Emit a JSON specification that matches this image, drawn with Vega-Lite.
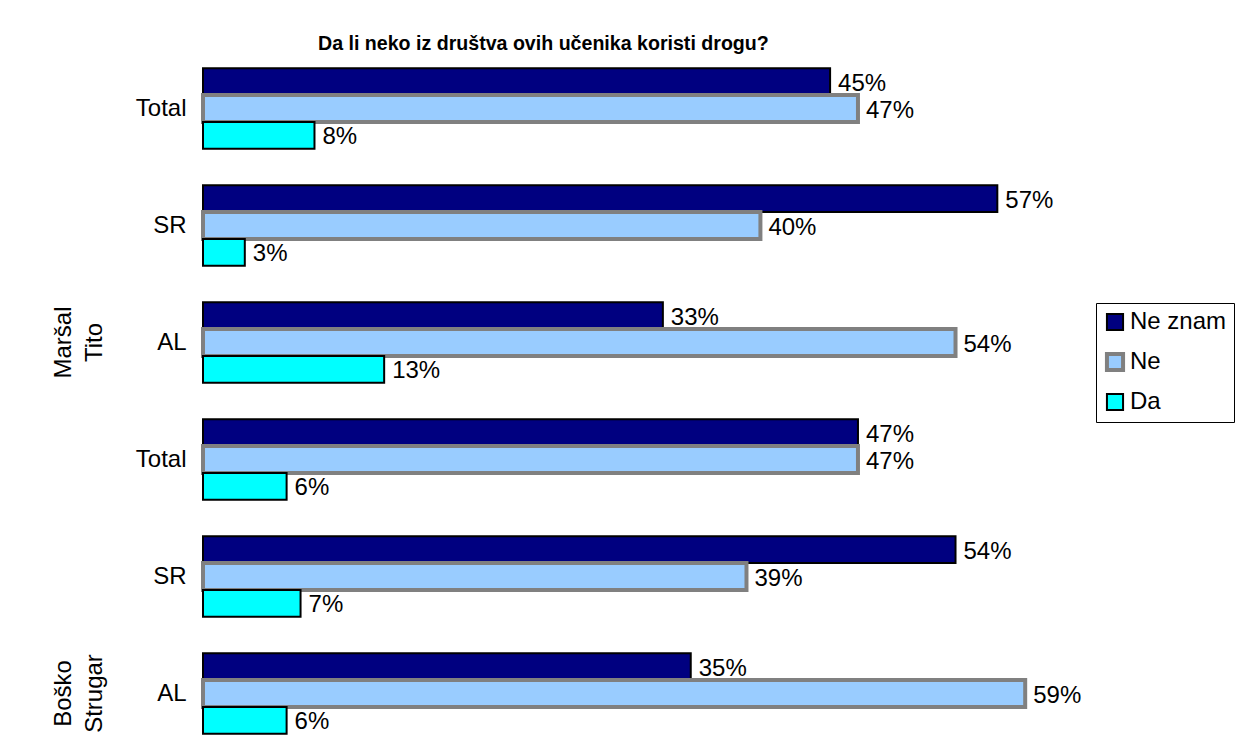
{
  "$schema": "https://vega.github.io/schema/vega-lite/v6.json",
  "width": 864,
  "height": 702,
  "autosize": "none",
  "padding": {"left": 203, "top": 50, "right": 190, "bottom": 3},
  "background": "white",
  "config": {
    "font": "Liberation Sans",
    "view": {"stroke": null}
  },
  "title": {
    "text": "Da li neko iz društva ovih učenika koristi drogu?",
    "font": "Liberation Sans",
    "fontSize": 19.6,
    "fontWeight": "bold",
    "anchor": "start",
    "frame": "group",
    "dx": 115,
    "offset": -5,
    "color": "black"
  },
  "layer": [
    {
      "data": {
        "values": [
          {"row": "1|Total", "resp": "Ne znam", "value": 0.45},
          {"row": "1|Total", "resp": "Ne", "value": 0.47},
          {"row": "1|Total", "resp": "Da", "value": 0.08},
          {"row": "2|SR", "resp": "Ne znam", "value": 0.57},
          {"row": "2|SR", "resp": "Ne", "value": 0.40},
          {"row": "2|SR", "resp": "Da", "value": 0.03},
          {"row": "3|AL", "resp": "Ne znam", "value": 0.33},
          {"row": "3|AL", "resp": "Ne", "value": 0.54},
          {"row": "3|AL", "resp": "Da", "value": 0.13},
          {"row": "4|Total", "resp": "Ne znam", "value": 0.47},
          {"row": "4|Total", "resp": "Ne", "value": 0.47},
          {"row": "4|Total", "resp": "Da", "value": 0.06},
          {"row": "5|SR", "resp": "Ne znam", "value": 0.54},
          {"row": "5|SR", "resp": "Ne", "value": 0.39},
          {"row": "5|SR", "resp": "Da", "value": 0.07},
          {"row": "6|AL", "resp": "Ne znam", "value": 0.35},
          {"row": "6|AL", "resp": "Ne", "value": 0.59},
          {"row": "6|AL", "resp": "Da", "value": 0.06}
        ]
      },
      "encoding": {
        "y": {
          "field": "row",
          "type": "nominal",
          "sort": null,
          "scale": {"paddingInner": 0.31, "paddingOuter": 0.155},
          "axis": {
            "title": null,
            "domain": false,
            "ticks": false,
            "labelFontSize": 24,
            "labelColor": "black",
            "labelPadding": 17,
            "labelExpr": "split(datum.label, '|')[1]"
          }
        },
        "x": {
          "field": "value",
          "type": "quantitative",
          "scale": {"domain": [0, 0.62], "nice": false, "zero": true},
          "axis": null
        },
        "yOffset": {
          "field": "resp",
          "type": "nominal",
          "sort": ["Ne znam", "Ne", "Da"],
          "scale": {"paddingInner": 0, "paddingOuter": 0}
        }
      },
      "layer": [
        {
          "mark": {"type": "bar", "cornerRadius": 0},
          "encoding": {
            "color": {
              "field": "resp",
              "type": "nominal",
              "sort": ["Ne znam", "Ne", "Da"],
              "scale": {"domain": ["Ne znam", "Ne", "Da"], "range": ["#000080", "#99CCFF", "#00FFFF"]},
              "legend": {
                "title": null,
                "orient": "none",
                "legendX": 893,
                "legendY": 253,
                "labelFontSize": 24,
                "labelColor": "black",
                "labelExpr": "datum.label + '\u2002\u2002'",
                "symbolType": "square",
                "symbolSize": 260,
                "symbolOpacity": 1,
                "rowPadding": 10,
                "labelOffset": 3,
                "strokeColor": "black",
                "padding": 7,
                "fillColor": "white"
              }
            },
            "stroke": {
              "field": "resp",
              "type": "nominal",
              "sort": ["Ne znam", "Ne", "Da"],
              "scale": {"domain": ["Ne znam", "Ne", "Da"], "range": ["#000000", "#808080", "#000000"]},
              "legend": null
            },
            "strokeWidth": {
              "field": "resp",
              "type": "nominal",
              "sort": ["Ne znam", "Ne", "Da"],
              "scale": {"type": "ordinal", "domain": ["Ne znam", "Ne", "Da"], "range": [2, 4, 2]},
              "legend": null
            }
          }
        },
        {
          "mark": {"type": "text", "align": "left", "baseline": "middle", "dx": 8, "dy": 2, "fontSize": 24, "color": "black"},
          "encoding": {
            "text": {"field": "value", "type": "quantitative", "format": ".0%"}
          }
        }
      ]
    },
    {
      "data": {
        "values": [
          {"row": "3|AL", "grp": "Maršal\nTito"},
          {"row": "6|AL", "grp": "Boško\nStrugar"}
        ]
      },
      "mark": {"type": "text", "angle": 270, "align": "center", "baseline": "middle", "fontSize": 24, "lineBreak": "\n", "lineHeight": 31, "color": "black", "clip": false},
      "encoding": {
        "x": {"datum": -0.1},
        "y": {"field": "row", "type": "nominal", "sort": null},
        "text": {"field": "grp", "type": "nominal"}
      }
    }
  ]
}
